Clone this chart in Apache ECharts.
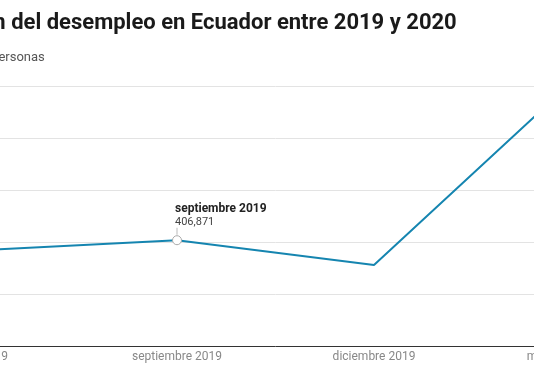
<!DOCTYPE html>
<html><head><meta charset="utf-8">
<script src="https://cdn.jsdelivr.net/npm/echarts@6/dist/echarts.min.js"></script>
<style>
html,body{margin:0;padding:0;overflow:hidden;background:#fff;width:534px;height:377px;}
#c{position:absolute;left:-120px;top:0;width:800px;height:377px;}
</style></head><body>
<div id="c"></div>
<script>
const titleText = "Evolución del desempleo en Ecuador entre 2019 y 2020";
const subtitleText = "Número de personas";
const categories = ["junio 2019", "septiembre 2019", "diciembre 2019", "mayo-junio 2020"];
const desempleados = [368000, 406871, 311134, 1012000];
const yTicks = [0, 200000, 400000, 600000, 800000, 1000000];
const highlightIndex = 1;

const fmt = v => v.toLocaleString('en-US');
const chart = echarts.init(document.getElementById('c'), null, {renderer: 'canvas'});
const seriesData = desempleados.map((v, i) => i === highlightIndex ? {
  value: v,
  symbol: 'circle', symbolSize: 9,
  itemStyle: {color: '#fff', borderColor: '#aaa', borderWidth: 1},
  label: {
    show: true, position: 'top', align: 'left', distance: 0, offset: [-2, -6],
    formatter: p => '{a|' + p.name + '}\n{b|' + fmt(p.value) + '}',
    rich: {
      a: {fontFamily: 'Roboto', fontWeight: 'bold', fontSize: 12, color: '#222', lineHeight: 14},
      b: {fontFamily: 'Roboto', fontSize: 11, color: '#444', lineHeight: 13}
    }
  }
} : {value: v, symbol: 'none'});

chart.setOption({
  animation: false,
  title: [
    {text: titleText, left: 25, top: 7, textStyle: {fontFamily: 'Roboto', fontWeight: 'bold', fontSize: 22, color: '#1a1a1a'}},
    {text: subtitleText, left: 39, top: 46, textStyle: {fontFamily: 'Roboto', fontWeight: 'normal', fontSize: 13, color: '#555'}}
  ],
  grid: {left: 100, right: 109, top: 86, bottom: 31, containLabel: false},
  xAxis: {
    type: 'category', data: categories, boundaryGap: false,
    axisLine: {lineStyle: {color: '#333', width: 1}},
    axisTick: {show: false},
    axisLabel: {fontFamily: 'Roboto', fontSize: 12, color: '#888', margin: 5, interval: 0}
  },
  yAxis: {
    type: 'value', min: yTicks[0], max: yTicks[yTicks.length - 1], interval: yTicks[1] - yTicks[0],
    axisLine: {show: false}, axisTick: {show: false},
    axisLabel: {fontFamily: 'Roboto', fontSize: 12, color: '#888', formatter: v => fmt(v)},
    splitLine: {lineStyle: {color: '#e3e3e3', width: 1}}
  },
  series: [{
    type: 'line', data: seriesData, showSymbol: true,
    lineStyle: {color: '#1585b0', width: 2},
    itemStyle: {color: '#1585b0'},
    z: 3,
    markPoint: {
      silent: true,
      data: [{coord: [categories[highlightIndex], desempleados[highlightIndex]], symbol: 'rect', symbolSize: [1, 7], symbolOffset: [0, -9], itemStyle: {color: '#bbb'}, label: {show: false}}]
    }
  }]
});
</script>
</body></html>
